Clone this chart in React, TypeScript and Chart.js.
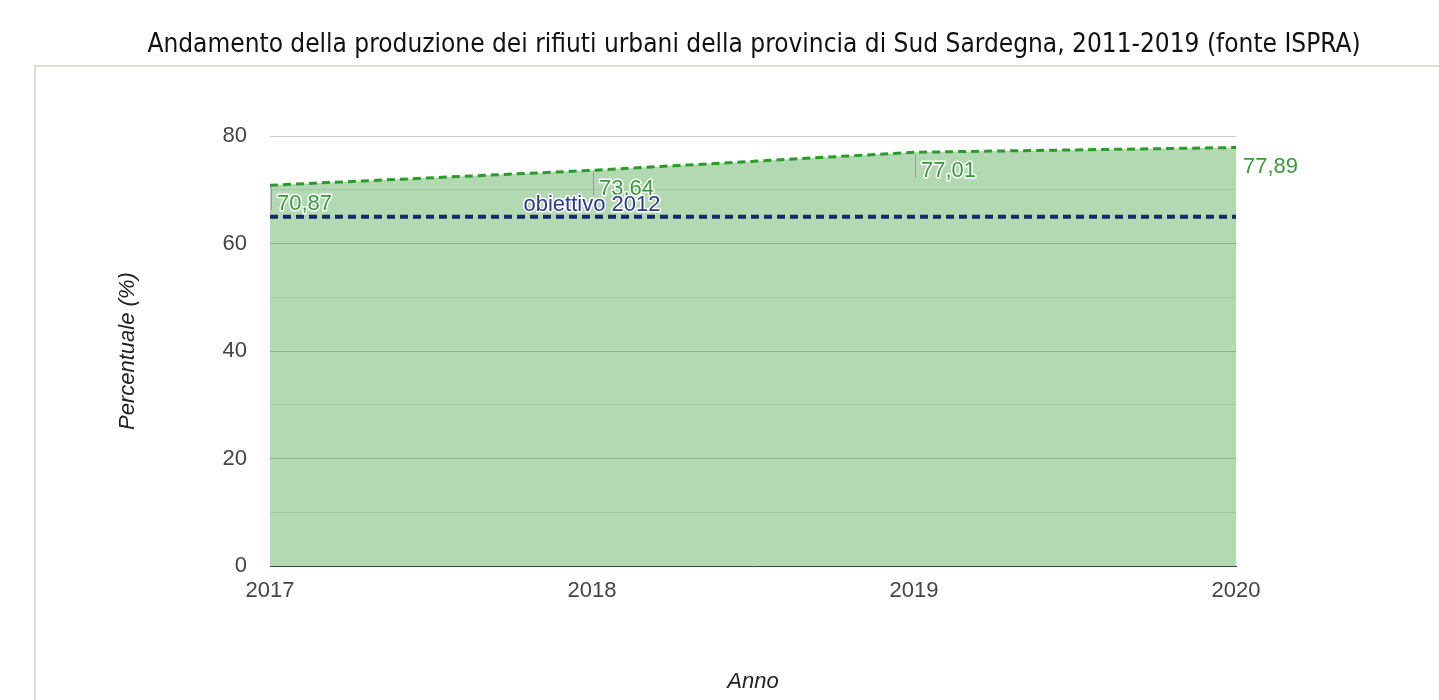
import React, { useEffect, useRef } from 'react';
import { Chart, registerables } from 'chart.js';

Chart.register(...registerables);

const years = ['2017', '2018', '2019', '2020'];
const raccoltaDifferenziata = [70.87, 73.64, 77.01, 77.89];
const obiettivo2012 = [65, 65, 65, 65];
const yLabelTicks = [0, 20, 40, 60, 80];
const titleText =
  'Andamento della produzione dei rifiuti urbani della provincia di Sud Sardegna, 2011-2019 (fonte ISPRA)';
const obiettivoLabel = 'obiettivo 2012';
const xTitle = 'Anno';
const yTitle = 'Percentuale (%)';

const LABEL_FONT = '"Liberation Sans", Arial, sans-serif';
const TITLE_FONT = '"DejaVu Sans Condensed", "DejaVu Sans", Verdana, sans-serif';

const formatIt = (v: number) => v.toFixed(2).replace('.', ',');

const boxPlugin = {
  id: 'boxPlugin',
  beforeDraw(chart: any) {
    const ctx = chart.ctx;
    ctx.save();
    ctx.strokeStyle = '#d9dcd3';
    ctx.lineWidth = 2;
    ctx.strokeRect(35, 66, 1600, 800);
    ctx.restore();
  },
};

const labelsPlugin = {
  id: 'labelsPlugin',
  afterDatasetsDraw(chart: any) {
    const ctx = chart.ctx;
    const meta0 = chart.getDatasetMeta(0);
    const meta1 = chart.getDatasetMeta(1);
    const n = meta0.data.length;
    ctx.save();
    ctx.font = `22px ${LABEL_FONT}`;
    ctx.textAlign = 'left';
    ctx.textBaseline = 'alphabetic';
    ctx.lineJoin = 'round';
    meta0.data.forEach((pt: any, i: number) => {
      const { x, y } = pt;
      const txt = formatIt(raccoltaDifferenziata[i]);
      if (i < n - 1) {
        ctx.strokeStyle = '#9a9a9a';
        ctx.lineWidth = 1;
        ctx.beginPath();
        ctx.moveTo(x + 1.5, y + 2);
        ctx.lineTo(x + 1.5, y + 25);
        ctx.stroke();
        ctx.strokeStyle = '#ffffff';
        ctx.lineWidth = 3;
        ctx.strokeText(txt, x + 7, y + 25);
      }
      ctx.fillStyle = '#3a9a3a';
      ctx.fillText(txt, x + 7, y + 25);
    });
    const p = meta1.data[1];
    if (p) {
      ctx.textAlign = 'center';
      ctx.strokeStyle = '#ffffff';
      ctx.lineWidth = 3;
      ctx.strokeText(obiettivoLabel, p.x, p.y - 6);
      ctx.fillStyle = '#2b3a8f';
      ctx.fillText(obiettivoLabel, p.x, p.y - 6);
    }
    ctx.restore();
  },
};

export default function App() {
  const canvasRef = useRef<HTMLCanvasElement | null>(null);

  useEffect(() => {
    if (!canvasRef.current) return;
    const chart = new Chart(canvasRef.current, {
      type: 'line',
      data: {
        labels: years,
        datasets: [
          {
            label: 'Raccolta differenziata',
            data: raccoltaDifferenziata,
            borderColor: '#2a9a2a',
            borderWidth: 3,
            borderDash: [8, 5],
            backgroundColor: 'rgba(0,128,0,0.3)',
            fill: 'origin',
            pointRadius: 0,
            tension: 0,
            order: 1,
          },
          {
            label: obiettivoLabel,
            data: obiettivo2012,
            borderColor: '#142a6e',
            borderWidth: 4,
            borderDash: [8, 5],
            fill: false,
            pointRadius: 0,
            tension: 0,
            order: 0,
          },
        ],
      },
      options: {
        responsive: false,
        animation: false,
        devicePixelRatio: 1,
        layout: { padding: { left: 69, right: 0, top: 0, bottom: 0 } },
        plugins: {
          legend: { display: false },
          tooltip: { enabled: false },
          title: {
            display: true,
            text: titleText,
            color: '#111111',
            font: { family: TITLE_FONT, size: 26, weight: 'normal' },
            padding: { top: 30, bottom: 75 },
          },
        },
        scales: {
          x: {
            type: 'category',
            offset: false,
            grid: { display: false, drawTicks: false },
            border: { display: true, color: '#444444', width: 1 },
            ticks: {
              color: '#444444',
              font: { family: LABEL_FONT, size: 22 },
              padding: 12,
              maxRotation: 0,
              autoSkip: false,
            },
            title: {
              display: true,
              text: xTitle,
              color: '#222222',
              font: { family: LABEL_FONT, size: 22, style: 'italic' },
              padding: { top: 0, bottom: 5 },
            },
            afterFit: (s: any) => {
              s.height = 134;
            },
          },
          y: {
            min: 0,
            max: 80,
            ticks: {
              stepSize: 10,
              color: '#444444',
              font: { family: LABEL_FONT, size: 22 },
              padding: 23,
              callback: (v: any) => (yLabelTicks.includes(Number(v)) ? String(v) : ''),
            },
            grid: {
              drawTicks: false,
              color: (c: any) =>
                c.tick && c.tick.value % 20 === 0 ? '#cccccc' : '#e8e8e8',
            },
            border: { display: false },
            title: {
              display: true,
              text: yTitle,
              color: '#222222',
              font: { family: LABEL_FONT, size: 22, style: 'italic' },
              padding: { top: 46, bottom: 0 },
            },
            afterFit: (s: any) => {
              s.width = 201;
            },
          },
          y2: {
            position: 'right',
            display: true,
            grid: { display: false, drawTicks: false },
            border: { display: false },
            ticks: { display: false },
            afterFit: (s: any) => {
              s.width = 203;
            },
          },
        },
      },
      plugins: [boxPlugin, labelsPlugin],
    } as any);
    return () => chart.destroy();
  }, []);

  return (
    <div style={{ position: 'absolute', left: 0, top: 0, width: 1439, height: 700, background: '#ffffff' }}>
      <canvas ref={canvasRef} width={1439} height={700} style={{ display: 'block' }} />
    </div>
  );
}
